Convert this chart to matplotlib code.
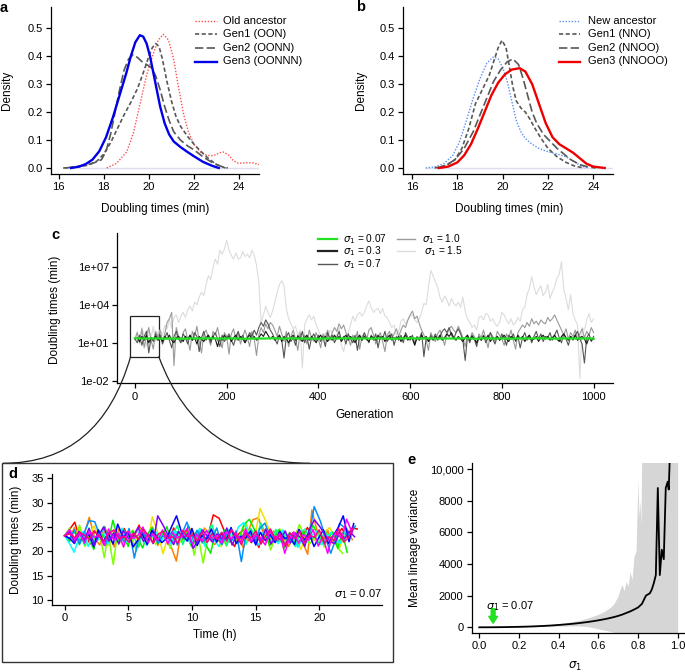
import numpy as np
import matplotlib
matplotlib.use('Agg')
from matplotlib import pyplot as plt
from matplotlib.lines import Line2D
from matplotlib.patches import Rectangle, PathPatch
from matplotlib.path import Path

plt.rcParams['font.family'] = ['Liberation Sans', 'DejaVu Sans']
plt.rcParams['font.size'] = 8

# ---------------- panel a: densities (old ancestor lineage)
a_old_x = [18.13, 18.57, 19.02, 19.31, 19.61, 19.9, 20.2, 20.42, 20.64, 20.87, 21.09, 21.31, 21.53,
           21.75, 21.98, 22.27, 22.57, 22.86, 23.16, 23.31, 23.53, 23.75, 23.97, 24.2, 24.42, 24.64, 24.89]
a_old_y = [0.0, 0.017, 0.058, 0.124, 0.23, 0.333, 0.41, 0.458, 0.478, 0.458, 0.393, 0.291, 0.196,
           0.13, 0.088, 0.058, 0.045, 0.044, 0.055, 0.057, 0.047, 0.026, 0.017, 0.018, 0.019, 0.018, 0.012]
a_g1_x = [16.2, 16.8, 17.3, 17.7, 18.0, 18.3, 18.6, 18.9, 19.2, 19.5, 19.75, 20.0, 20.15, 20.3, 20.45,
          20.6, 20.8, 21.0, 21.2, 21.4, 21.7, 22.0, 22.3, 22.6, 23.0, 23.4]
a_g1_y = [0.0, 0.003, 0.01, 0.025, 0.05, 0.09, 0.14, 0.19, 0.235, 0.285, 0.34, 0.40, 0.43, 0.445, 0.435,
          0.39, 0.31, 0.24, 0.185, 0.15, 0.115, 0.085, 0.06, 0.037, 0.012, 0.0]
a_g2_x = [16.3, 16.8, 17.3, 17.7, 17.9, 18.1, 18.3, 18.5, 18.7, 18.9, 19.1, 19.3, 19.5, 19.7, 19.9,
          20.1, 20.3, 20.5, 20.7, 20.9, 21.1, 21.4, 21.7, 22.0, 22.4, 22.8, 23.2, 23.5]
a_g2_y = [0.0, 0.005, 0.012, 0.022, 0.03, 0.06, 0.12, 0.2, 0.28, 0.35, 0.39, 0.405, 0.395, 0.38, 0.37,
          0.36, 0.33, 0.28, 0.22, 0.17, 0.13, 0.1, 0.08, 0.065, 0.04, 0.02, 0.006, 0.0]
a_g3_x = [16.55, 16.9, 17.2, 17.5, 17.8, 18.1, 18.4, 18.7, 19.0, 19.2, 19.4, 19.6, 19.75, 19.9, 20.05,
          20.2, 20.35, 20.5, 20.7, 20.9, 21.1, 21.4, 21.7, 22.0, 22.4, 22.8, 23.1]
a_g3_y = [0.0, 0.005, 0.014, 0.03, 0.06, 0.11, 0.18, 0.26, 0.34, 0.4, 0.45, 0.475, 0.47, 0.445, 0.4,
          0.34, 0.28, 0.22, 0.16, 0.12, 0.095, 0.075, 0.058, 0.042, 0.022, 0.008, 0.0]

# ---------------- panel b: densities (new ancestor lineage)
b_new_x = [16.6, 17.0, 17.4, 17.8, 18.1, 18.4, 18.7, 19.0, 19.3, 19.6, 19.8, 20.0, 20.2, 20.4, 20.6,
           20.8, 21.0, 21.3, 21.6, 22.0, 22.4, 22.8, 23.2, 23.5, 23.8]
b_new_y = [0.0, 0.004, 0.015, 0.045, 0.095, 0.17, 0.25, 0.32, 0.375, 0.398, 0.39, 0.36, 0.31, 0.24, 0.17,
           0.13, 0.105, 0.085, 0.07, 0.058, 0.05, 0.04, 0.02, 0.006, 0.0]
b_g1_x = [17.0, 17.5, 17.9, 18.2, 18.5, 18.8, 19.1, 19.4, 19.6, 19.8, 19.97, 20.15, 20.3, 20.45, 20.6,
          20.8, 21.0, 21.2, 21.4, 21.7, 22.0, 22.4, 22.8, 23.2, 23.6]
b_g1_y = [0.0, 0.008, 0.03, 0.07, 0.14, 0.23, 0.28, 0.33, 0.38, 0.43, 0.457, 0.43, 0.36, 0.29, 0.24,
          0.215, 0.2, 0.175, 0.145, 0.105, 0.07, 0.04, 0.02, 0.006, 0.0]
b_g2_x = [17.1, 17.5, 17.9, 18.3, 18.7, 19.0, 19.3, 19.6, 19.9, 20.2, 20.45, 20.7, 20.9, 21.1, 21.3,
          21.5, 21.8, 22.1, 22.4, 22.7, 23.0, 23.4, 23.8, 24.1]
b_g2_y = [0.0, 0.01, 0.03, 0.07, 0.13, 0.19, 0.25, 0.31, 0.35, 0.38, 0.39, 0.37, 0.32, 0.26, 0.2,
          0.16, 0.12, 0.095, 0.07, 0.05, 0.03, 0.012, 0.003, 0.0]
b_g3_x = [17.2, 17.6, 18.0, 18.3, 18.6, 18.9, 19.2, 19.5, 19.8, 20.1, 20.4, 20.75, 21.0, 21.3, 21.6,
          21.9, 22.2, 22.5, 22.8, 23.1, 23.4, 23.7, 24.0, 24.5]
b_g3_y = [0.0, 0.005, 0.02, 0.045, 0.085, 0.14, 0.2, 0.26, 0.305, 0.335, 0.352, 0.357, 0.345, 0.3, 0.23,
          0.16, 0.11, 0.085, 0.07, 0.055, 0.035, 0.015, 0.005, 0.0]

# ---------------- panel c: log10 doubling times, every 5 generations
gens = np.arange(0, 1001, 5)
c_s15 = [1.3, 1.9, 0.9, 2.2, 1.5, 0.7, 2.0, 1.4, 2.3, 1.1, 1.8,
         2.0, 1.6, 2.4, 2.1, 2.8, 2.2, 3.0, 3.2, 2.6, 3.1,
         3.4, 3.0, 3.6, 3.9, 3.5, 4.2, 4.0, 4.6, 5.0, 4.7,
         5.6, 6.3, 6.0, 6.9, 7.6, 7.2, 8.3, 8.0, 8.4, 9.1,
         8.3, 7.9, 7.6, 8.1, 7.6, 7.7, 8.2, 7.8, 8.0, 7.7,
         8.3, 7.9, 7.1, 5.8, 2.6, 3.2, 3.9, 3.4, 3.0, 3.5,
         4.2, 5.0, 5.6, 5.9, 5.5, 3.7, 2.9, 2.5, 2.1, 2.3,
         1.6, 2.0, -1.0, 2.4, 2.9, 3.2, 2.8, 3.1, 2.4, 2.0,
         1.5, 1.1, 1.8, 1.4, 2.0, 1.8, 1.2, 1.6, 2.2, 0.8,
         0.3, 1.3, 1.8, 2.4, 3.1, 2.7, 3.2, 3.4, 3.1, 3.4,
         3.9, 4.3, 3.8, 3.4, 3.6, 3.7, 3.3, 3.7, 3.1, 3.0,
         2.6, 2.2, 2.4, 1.6, 1.9, 2.7, 2.9, 2.5, 2.8, 3.1,
         3.2, 2.8, 2.6, 2.9, 3.4, 4.1, 4.0, 5.4, 6.7, 6.3,
         5.8, 5.4, 4.6, 4.2, 4.7, 4.4, 3.9, 4.5, 4.1, 3.9,
         4.2, 3.8, 4.6, 3.5, 2.9, 2.6, 2.2, 2.4, 2.0, 3.0,
         3.1, 2.8, 3.3, 3.2, 2.7, 2.9, 2.5, 2.3, 2.6, 3.4,
         3.2, 2.8, 2.5, 2.9, 2.4, 2.6, 3.0, 2.7, 3.6, 3.8,
         4.8, 5.3, 6.2, 5.4, 4.8, 5.2, 5.5, 4.7, 5.0, 5.6,
         4.5, 5.0, 5.4, 6.1, 6.4, 7.4, 5.2, 4.5, 3.6, 4.8,
         3.3, 2.8, 2.4, -1.8, 2.2, 2.0, 2.8, 3.3, 2.6, 2.9]
c_s10 = [1.3, 1.8, 1.0, 2.1, 0.6, 1.6, 2.2, 1.2, 0.5, 1.9, 1.4,
         2.0, 1.1, 1.7, 2.6, 2.9, 3.4, -0.8, 2.2, 1.5, 1.0,
         1.8, 2.1, 1.2, 0.4, 1.9, 1.5, 2.3, 1.1, 0.2, 1.7,
         2.0, 1.4, 0.8, 1.9, 1.6, 2.2, 1.3, 0.6, 1.8, 1.5,
         0.1, 1.7, 2.1, 1.2, 1.8, 0.9, 1.5, 2.0, 1.4, 0.7,
         1.9, 1.3, 0.0, 1.6, 2.2, 1.8, 2.5, 2.1, 2.6, 2.4,
         2.0, 1.5, 2.3, 1.7, 1.1, 1.9, 0.7, 1.5, 2.0, 1.3,
         0.4, 1.8, 1.2, 1.6, 0.9, 2.0, 1.4, 1.1, 1.8, 1.3,
         0.6, 1.7, 1.4, 2.0, 1.2, 1.8, 2.2, 1.9, 2.5, 2.1,
         2.4, 1.8, 1.4, 0.8, 1.6, 1.2, 1.9, 0.5, 1.5, 1.7,
         1.2, 2.0, 2.2, 1.6, 0.9, 1.4, 1.8, 1.1, 0.3, 1.6,
         1.9, 1.3, 1.7, 2.1, 1.5, 2.0, 2.4, 2.2, 2.8, 3.2,
         3.5, 2.9, 3.1, 2.5, 2.0, 1.6, 1.2, 0.4, 1.8, 1.4,
         1.1, 1.7, 2.0, 1.5, 0.8, 1.6, 2.1, 2.3, 2.0, 1.8,
         2.3, 1.9, 1.4, 0.7, 1.6, 1.2, 1.8, 1.5, 0.9, 1.7,
         1.4, 2.0, 1.3, 0.6, 1.8, 1.5, 1.1, 1.9, 1.6, 1.3,
         0.8, 1.7, 1.4, 2.0, 1.2, 0.5, 1.8, 2.1, 2.4, 2.2,
         2.6, 2.3, 2.9, 2.5, 2.7, 2.4, 2.8, 2.6, 2.5, 3.0,
         2.7, 2.9, 3.2, 2.8, 2.4, 2.0, 1.6, 2.1, 1.3, 1.8,
         1.5, 2.0, 1.2, 1.7, 2.1, 1.4, 1.9, 1.6, 2.2, 1.8]
c_s07 = [1.3, 1.0, 1.6, 0.8, 1.5, 1.9, 0.2, 1.4, 1.1, 1.7, 1.2,
         1.6, 0.9, 1.4, 1.8, 1.2, 0.6, 1.5, 1.9, 1.3, 1.0,
         1.7, 1.4, 0.9, 1.6, 1.2, 1.8, 1.5, 0.3, 1.4, 1.9,
         1.2, 1.6, 1.0, 1.5, 1.8, 1.3, 0.7, 1.6, 1.1, 1.4,
         1.7, 1.2, 0.8, 1.5, 1.9, 1.3, 1.6, 1.0, 1.4, 1.8,
         1.5, 2.0, 1.6, 2.2, 2.6, 2.3, 2.8, 2.5, 2.0, 1.7,
         1.3, 0.9, 1.6, 1.2, -0.2, 1.5, 1.8, 1.1, 1.4, 0.8,
         1.6, 1.3, 1.9, 1.0, 1.5, 0.5, 1.4, 1.7, 1.2, 1.6,
         1.1, 1.5, 0.7, 1.8, 1.3, 1.6, 1.0, 1.4, 1.9, 1.2,
         1.5, 0.9, 1.7, 1.3, 1.0, 1.6, 0.4, 1.5, 1.2, 1.8,
         1.4, 1.0, 1.6, 1.2, 1.7, 0.6, 1.5, 1.3, 1.9, 1.1,
         1.4, 1.7, 0.8, 1.5, 1.2, 1.6, 1.0, 1.8, 1.4, 1.2,
         1.6, 0.9, 1.5, 1.3, 1.8, -0.1, 1.4, 1.1, 1.6, 1.3,
         1.7, 1.2, 1.5, 1.9, 2.1, 1.8, 2.2, 1.6, 1.3, 1.8,
         2.1, 1.7, 1.2, -0.4, 1.5, 1.0, 1.6, 1.3, 0.7, 1.5,
         1.2, 1.6, 1.0, 1.4, 1.8, 1.3, 0.9, 1.5, 1.2, 1.7,
         1.4, 0.8, 1.6, 1.3, 1.7, 1.1, 1.5, 0.6, 1.4, 1.8,
         1.2, 1.6, 1.0, 1.5, 1.9, 1.3, 1.7, 1.1, 1.5, 1.4,
         1.8, 1.2, 1.6, 2.0, 1.4, 1.0, 1.7, 1.3, 0.8, 1.5,
         1.2, 1.6, 1.9, 1.3, 0.9, -0.6, 1.4, 1.7, 1.1, 1.5]
c_s03 = [1.3, 1.4, 1.1, 1.5, 1.2, 1.6, 1.0, 1.4, 1.3, 1.5, 1.2,
         1.4, 1.1, 1.5, 1.3, 1.6, 1.2, 1.0, 1.4, 1.5, 1.3,
         1.1, 1.5, 1.3, 1.6, 1.2, 1.4, 0.9, 1.5, 1.3, 1.1,
         1.4, 1.6, 1.2, 1.5, 1.3, 0.7, 1.4, 1.2, 1.6, 1.3,
         1.5, 1.1, 1.4, 1.6, 1.2, 1.5, 1.3, 1.0, 1.4, 1.6,
         1.3, 1.5, 1.2, 1.4, 1.7, 1.5, 1.9, 1.6, 1.3, 1.5,
         1.2, 1.4, 1.6, 1.1, 1.5, 1.3, 1.0, 1.4, 1.6, 1.2,
         1.5, 1.3, 1.1, 1.4, 1.6, 1.2, 1.5, 1.3, 1.0, 1.4,
         1.6, 1.3, 1.5, 1.1, 1.4, 1.2, 1.6, 1.3, 1.5, 1.1,
         1.4, 1.6, 1.2, 1.5, 1.3, 1.0, 1.4, 1.6, 1.2, 1.5,
         1.3, 1.1, 1.5, 1.4, 1.2, 1.6, 1.3, 1.5, 1.1, 1.4,
         1.6, 1.2, 1.4, 1.3, 1.5, 1.1, 1.4, 1.6, 1.2, 1.5,
         1.3, 0.8, 1.4, 1.2, 1.6, 1.3, 1.5, 1.1, 1.4, 1.2,
         1.5, 1.3, 1.6, 1.2, 1.4, 1.7, 1.5, 1.8, 1.4, 1.2,
         1.5, 1.3, 1.1, 1.4, 1.6, 1.2, 1.5, 1.3, 1.0, 1.4,
         1.2, 1.5, 1.3, 1.6, 1.1, 1.4, 1.3, 1.5, 1.2, 1.4,
         1.6, 1.3, 1.1, 1.5, 1.4, 1.2, 1.6, 1.3, 1.5, 1.1,
         1.4, 1.6, 1.2, 1.3, 1.5, 1.1, 1.4, 1.6, 1.3, 1.5,
         1.2, 1.4, 1.6, 1.3, 1.1, 1.5, 1.7, 1.4, 1.2, 1.5,
         1.3, 1.6, 1.2, 1.4, 1.5, 1.3, 0.9, 1.4, 1.2, 1.3]
gens_g = np.arange(0, 1001, 20)
c_s007 = [1.36, 1.33, 1.35, 1.32, 1.34, 1.31, 1.35, 1.33, 1.36, 1.32, 1.34, 1.35, 1.31, 1.34, 1.33, 1.36, 1.32,
          1.35, 1.33, 1.34, 1.31, 1.35, 1.33, 1.36, 1.32, 1.34, 1.33, 1.35, 1.31, 1.34, 1.36, 1.33, 1.35, 1.32,
          1.34, 1.33, 1.36, 1.31, 1.35, 1.33, 1.34, 1.32, 1.35, 1.33, 1.36, 1.34, 1.32, 1.35, 1.33, 1.34, 1.33]

# ---------------- panel d: doubling times (min) of single lineages, sigma1 = 0.07
d_lineages = [
    [23.2, 24.5, 26.0, 22.1, 23.8, 21.5, 24.2, 22.9, 25.1, 22.0, 23.6, 21.8, 24.7, 22.5, 23.1, 25.4, 21.9, 23.3, 24.0, 22.2,
     23.9, 21.4, 24.8, 23.0, 22.4, 25.2, 22.8, 24.1, 21.7, 23.5, 27.5, 26.8, 23.9, 22.3, 21.0, 23.7, 24.4, 22.1, 23.2, 20.8,
     24.6, 22.7, 23.4, 21.9, 24.2, 22.6, 23.8, 21.5, 23.1, 24.9, 22.3, 23.6, 22.0, 24.4, 21.8, 23.3, 24.7, 22.9, 24.8, 24.6],
    [23.2, 22.4, 24.9, 21.8, 23.5, 27.0, 22.6, 21.3, 24.1, 23.0, 20.9, 24.6, 22.2, 23.8, 21.5, 20.8, 23.9, 22.7, 25.0, 21.2,
     23.4, 22.0, 20.5, 18.0, 22.9, 24.3, 21.6, 23.7, 22.1, 24.8, 23.0, 21.4, 22.5, 24.0, 21.9, 23.3, 22.6, 20.7, 23.9, 26.5,
     26.9, 23.1, 21.8, 24.2, 22.4, 23.6, 21.0, 22.8, 24.5, 21.6, 19.4, 28.5, 23.6, 22.0, 24.3, 21.7, 23.2, 22.8, 24.6, 22.4],
    [23.2, 23.9, 22.1, 24.6, 21.7, 23.3, 25.2, 22.4, 23.0, 21.2, 24.1, 22.8, 20.9, 23.6, 24.4, 22.0, 23.1, 21.5, 27.1, 23.8,
     19.5, 22.6, 24.0, 21.9, 23.4, 22.3, 24.7, 21.6, 23.2, 24.5, 22.1, 23.7, 21.0, 22.9, 24.3, 23.5, 22.2, 24.8, 21.8, 23.4,
     28.8, 26.0, 23.1, 22.5, 24.2, 21.3, 23.6, 22.7, 20.4, 23.0, 24.1, 22.2, 21.9, 23.8, 24.9, 22.6, 20.8, 23.3, 22.8],
    [23.2, 24.8, 22.3, 25.4, 21.0, 23.6, 22.4, 24.1, 18.7, 23.5, 17.3, 22.8, 24.4, 21.6, 23.0, 20.1, 24.6, 22.2, 23.8, 21.4,
     22.9, 24.2, 20.6, 23.5, 21.9, 22.4, 24.7, 19.2, 23.1, 17.6, 21.8, 24.0, 22.6, 23.3, 21.1, 24.5, 22.0, 23.7, 25.9, 22.5,
     24.3, 21.7, 23.2, 20.3, 22.8, 24.6, 21.2, 23.9, 22.4, 25.5, 23.0, 21.5, 22.7, 24.1, 20.9, 23.4, 22.2, 20.6, 19.6],
    [23.2, 22.0, 24.3, 21.4, 23.9, 22.6, 20.4, 24.5, 23.1, 21.8, 26.4, 22.3, 23.6, 21.0, 24.2, 22.8, 20.7, 23.4, 24.9, 22.1,
     23.0, 25.1, 21.6, 24.0, 22.5, 23.7, 20.9, 22.4, 24.6, 21.3, 19.6, 23.3, 22.0, 24.4, 21.9, 23.5, 22.6, 25.5, 26.6, 24.2,
     22.1, 23.8, 21.2, 22.9, 24.5, 20.7, 23.6, 22.3, 21.0, 24.1, 22.7, 25.4, 23.2, 21.6, 22.8, 24.0, 20.6, 23.9, 19.8],
    [23.2, 24.2, 22.5, 23.7, 21.3, 24.8, 22.0, 23.4, 25.1, 22.3, 23.9, 21.6, 24.4, 22.8, 23.1, 20.9, 24.6, 22.2, 23.5, 21.8,
     24.0, 22.7, 23.3, 25.3, 21.4, 23.8, 22.1, 24.3, 21.7, 23.0, 25.6, 22.4, 23.6, 21.2, 24.1, 22.9, 23.4, 21.5, 24.7, 22.6,
     25.8, 23.2, 22.0, 24.5, 21.9, 23.7, 22.3, 21.0, 23.8, 24.6, 22.5, 23.1, 21.4, 24.2, 22.7, 23.5, 21.8, 22.9, 24.0],
    [23.2, 21.6, 19.8, 22.4, 24.1, 21.0, 23.5, 22.2, 24.6, 21.4, 23.0, 22.7, 24.8, 21.9, 22.5, 24.3, 23.1, 21.2, 22.8, 24.0,
     22.0, 23.6, 21.5, 24.2, 22.9, 23.3, 21.7, 22.4, 24.7, 21.1, 23.8, 22.3, 21.0, 23.4, 24.5, 22.1, 25.0, 25.9, 23.6, 22.4,
     21.3, 24.0, 22.8, 23.1, 21.6, 24.4, 22.2, 23.7, 20.8, 22.5, 21.9, 23.2, 24.1, 21.4, 22.6, 23.9, 22.0, 21.7, 24.3, 23.0],
    [23.2, 22.6, 24.4, 21.5, 23.8, 26.3, 26.1, 22.9, 21.2, 24.0, 22.5, 23.4, 21.8, 24.7, 18.6, 22.3, 23.9, 22.0, 24.5, 21.6,
     23.2, 22.8, 24.1, 21.3, 23.6, 26.0, 22.7, 24.3, 21.9, 23.0, 22.4, 24.8, 21.4, 23.5, 22.1, 24.2, 17.9, 22.6, 23.8, 21.7,
     24.6, 25.8, 23.1, 22.5, 24.0, 21.2, 23.7, 22.9, 24.4, 21.8, 23.3, 29.2, 26.2, 22.6, 19.6, 22.0, 25.7, 24.8, 23.4, 25.2],
    [23.2, 22.7, 21.6, 24.1, 22.3, 23.5, 20.9, 24.4, 22.0, 23.8, 21.5, 25.6, 22.8, 24.0, 20.9, 22.2, 23.6, 21.4, 24.3, 23.0,
     21.8, 22.6, 24.9, 27.3, 23.4, 22.1, 24.7, 21.2, 23.3, 22.5, 24.6, 21.9, 23.7, 22.4, 24.9, 21.6, 23.1, 22.8, 24.2, 21.3,
     23.9, 22.2, 23.5, 21.8, 24.1, 22.6, 23.0, 21.4, 24.5, 22.3, 23.8, 21.0, 22.7, 24.4, 21.6, 23.2, 24.8, 27.3, 22.0, 25.7],
    [23.2, 24.0, 21.8, 23.6, 22.4, 24.7, 21.2, 23.3, 25.0, 22.1, 23.8, 21.5, 24.3, 22.6, 23.1, 24.9, 22.0, 23.5, 21.6, 27.3,
     25.2, 23.0, 21.4, 24.1, 22.8, 23.7, 20.6, 22.2, 24.4, 23.1, 21.9, 23.6, 22.5, 24.8, 21.3, 23.2, 22.7, 24.0, 21.8, 23.4,
     22.1, 24.6, 21.5, 23.0, 22.4, 24.2, 21.7, 23.8, 22.9, 21.0, 24.5, 26.5, 25.0, 23.3, 22.0, 21.6, 23.9, 22.6, 24.1, 23.0],
    [23.2, 24.5, 22.4, 23.8, 21.7, 24.2, 22.9, 23.4, 21.2, 24.6, 22.3, 23.7, 20.9, 24.1, 22.6, 23.3, 25.0, 21.8, 23.6, 22.2,
     24.4, 21.5, 23.9, 22.8, 23.1, 24.7, 21.4, 23.5, 22.0, 24.3, 22.7, 23.2, 21.6, 24.0, 22.5, 23.8, 21.9, 24.6, 22.1, 23.4,
     22.8, 21.3, 24.2, 22.6, 23.7, 19.6, 22.4, 24.0, 21.7, 23.5, 22.3, 24.5, 21.1, 23.0, 19.6, 22.9, 24.1, 22.5, 26.6, 23.8],
    [23.2, 23.6, 22.8, 24.0, 23.3, 22.5, 24.2, 23.0, 22.1, 23.7, 24.4, 22.6, 23.1, 21.9, 23.8, 22.4, 24.6, 23.2, 21.7, 23.5,
     24.1, 22.7, 23.0, 21.6, 24.3, 22.9, 23.4, 22.2, 24.0, 21.8, 23.6, 22.5, 23.9, 22.1, 24.5, 23.0, 21.4, 23.7, 22.8, 24.2,
     21.5, 23.1, 24.6, 22.3, 23.4, 21.0, 23.8, 22.6, 24.1, 21.7, 23.3, 22.9, 24.4, 21.6, 23.0, 22.2, 24.7, 21.9, 22.8, 24.9],
]
d_colors = ['#FF0000', '#FF8000', '#F0E000', '#80FF00', '#00F000', '#00FF80',
            '#00FFFF', '#0090FF', '#0000FF', '#8000FF', '#FF00FF', '#FF0080']

# ---------------- panel e: mean lineage variance vs sigma1
e_sig = [0.00, 0.02, 0.04, 0.06, 0.08, 0.10, 0.12, 0.14, 0.16, 0.18, 0.20, 0.22, 0.24, 0.26, 0.28, 0.30,
         0.32, 0.34, 0.36, 0.38, 0.40, 0.42, 0.44, 0.46, 0.48, 0.50, 0.52, 0.54, 0.56, 0.58, 0.60, 0.62,
         0.64, 0.66, 0.68, 0.70, 0.72, 0.74, 0.76, 0.78, 0.80, 0.82, 0.84, 0.86, 0.87, 0.88, 0.89, 0.90,
         0.91, 0.92, 0.93, 0.94, 0.95, 0.955, 0.96]
e_mean = [0, 0.3, 1.2, 2.7, 5, 8, 11, 15, 19, 24, 30, 37, 44, 52, 62, 73,
          85, 98, 112, 128, 148, 168, 188, 210, 235, 262, 292, 325, 360, 398, 440, 485,
          535, 590, 650, 720, 800, 900, 1000, 1120, 1250, 1480, 2000, 2150, 2400, 2800, 3300, 8800,
          3300, 4900, 4300, 8800, 9200, 8700, 10600]
e_band_sig = [0.0, 0.1, 0.2, 0.3, 0.4, 0.45, 0.5, 0.55, 0.6, 0.63, 0.66, 0.68, 0.70, 0.71, 0.72, 0.73,
              0.74, 0.75, 0.76, 0.77, 0.78, 0.79, 0.80, 0.805, 0.81, 0.815, 0.82, 1.0]
e_band_hi = [0, 12, 45, 110, 230, 320, 430, 600, 820, 1000, 1250, 1500, 2000, 2400, 2700, 2300,
             2900, 2600, 3500, 3000, 4500, 4800, 9300, 7000, 8000, 6500, 12000, 12000]
e_band_lo = [0, 5, 18, 45, 80, 85, 90, 40, -100, -180, -260, -320, -1000, -1000, -1000, -1000,
             -1000, -1000, -1000, -1000, -1000, -1000, -1000, -1000, -1000, -1000, -1000, -1000]

W, H = 685, 672
fig = plt.figure(figsize=(W / 100, H / 100), dpi=100)


def box(x0, y0, x1, y1):
    return [x0 / W, 1 - y1 / H, (x1 - x0) / W, (y1 - y0) / H]


def fx(x):
    return x / W


def fy(y):
    return 1 - y / H


def style(ax):
    for s in ['top', 'right']:
        ax.spines[s].set_visible(False)
    for s in ['left', 'bottom']:
        ax.spines[s].set_linewidth(0.9)
    ax.tick_params(direction='out', length=3.5, width=0.9, labelsize=8, pad=2.5)


def label(x, y, s, rot=0, **kw):
    fig.text(fx(x), fy(y), s, rotation=rot, ha='center', va='center', fontsize=8.5, **kw)


def leg_row(x0, x1, xt, y, s, size=8, **kw):
    fig.add_artist(Line2D([fx(x0), fx(x1)], [fy(y), fy(y)], transform=fig.transFigure, **kw))
    fig.text(fx(xt), fy(y), s, ha='left', va='center', fontsize=size)


red_dot = dict(color='#ff5050', lw=1.0, dashes=(1, 1.2))
blue_dot = dict(color='#5a8ff0', lw=1.0, dashes=(1, 1.2))
gen1 = dict(color='#585858', lw=1.2, dashes=(2.5, 1.5))
gen2 = dict(color='#585858', lw=1.2, dashes=(5, 2))
blue3 = dict(color='#0000e8', lw=1.7)
red3 = dict(color='#ee0000', lw=1.7)

# a
ax = fig.add_axes(box(51, 6.7, 259, 174))
style(ax)
ax.plot([16.2, 24.9], [0, 0], color='#dedef2', lw=1)
ax.plot(a_old_x, a_old_y, **red_dot)
ax.plot(a_g1_x, a_g1_y, **gen1)
ax.plot(a_g2_x, a_g2_y, **gen2)
ax.plot(a_g3_x, a_g3_y, **blue3)
ax.set_xlim(15.658, 24.886)
ax.set_ylim(-0.0215, 0.577)
ax.set_xticks([16, 18, 20, 22, 24])
ax.set_yticks([0, 0.1, 0.2, 0.3, 0.4, 0.5], ['0.0', '0.1', '0.2', '0.3', '0.4', '0.5'])
leg_row(195, 216.7, 223.3, 20.7, 'Old ancestor', **red_dot)
leg_row(195, 216.7, 223.3, 34.2, 'Gen1 (OON)', **gen1)
leg_row(195, 216.7, 223.3, 47.8, 'Gen2 (OONN)', **gen2)
leg_row(195, 216.7, 223.3, 61.5, 'Gen3 (OONNN)', **blue3)
label(7.5, 90.3, 'Density', rot=90)
label(155, 208.5, 'Doubling times (min)')
fig.text(fx(3.5), fy(7.5), 'a', fontsize=10.5, fontweight='bold', ha='center', va='center')

# b
ax = fig.add_axes(box(403.3, 6.7, 612.7, 174))
style(ax)
ax.plot([16.6, 24.85], [0, 0], color='#dedef2', lw=1)
ax.plot(b_new_x, b_new_y, **blue_dot)
ax.plot(b_g1_x, b_g1_y, **gen1)
ax.plot(b_g2_x, b_g2_y, **gen2)
ax.plot(b_g3_x, b_g3_y, **red3)
ax.set_xlim(15.616, 24.853)
ax.set_ylim(-0.0215, 0.577)
ax.set_xticks([16, 18, 20, 22, 24])
ax.set_yticks([0, 0.1, 0.2, 0.3, 0.4, 0.5], ['0.0', '0.1', '0.2', '0.3', '0.4', '0.5'])
leg_row(559, 580, 587.7, 20.7, 'New ancestor', **blue_dot)
leg_row(559, 580, 587.7, 34.2, 'Gen1 (NNO)', **gen1)
leg_row(559, 580, 587.7, 47.8, 'Gen2 (NNOO)', **gen2)
leg_row(559, 580, 587.7, 61.5, 'Gen3 (NNOOO)', **red3)
label(361, 90.3, 'Density', rot=90)
label(509, 208.5, 'Doubling times (min)')
fig.text(fx(360.5), fy(7), 'b', fontsize=10.5, fontweight='bold', ha='center', va='center')

# c
c_styles = [(c_s15, gens, dict(color='#dcdcdc', lw=0.8)),
            (c_s10, gens, dict(color='#9a9a9a', lw=0.8)),
            (c_s07, gens, dict(color='#555555', lw=0.8)),
            (c_s03, gens, dict(color='#151515', lw=0.8))]
ax = fig.add_axes(box(117.3, 233.3, 613.3, 383.3))
style(ax)
ax.set_yscale('log')
for vals, g, st in c_styles:
    ax.plot(g, 10 ** np.array(vals), **st)
ax.plot(gens_g, 10 ** np.array(c_s007), color='#22e022', lw=1.6)
ax.add_patch(Rectangle((-10, 10 ** -0.1), 62, 10 ** 3.15 - 10 ** -0.1, fill=False, lw=0.9,
                       ec='#222222', clip_on=False))
ax.set_xlim(-38.6, 1043)
ax.set_ylim(10 ** -2.2, 10 ** 9.64)
ax.set_xticks([0, 200, 400, 600, 800, 1000])
ax.set_yticks([1e-2, 1e1, 1e4, 1e7], ['1e-02', '1e+01', '1e+04', '1e+07'])
ax.minorticks_off()
label(55, 310, 'Doubling times (min)', rot=90)
label(365, 415.5, 'Generation')
fig.text(fx(55), fy(235), 'c', fontsize=10.5, fontweight='bold', ha='center', va='center')
leg_row(318.3, 336.7, 342.7, 238.8, r'$\sigma_1$ = 0.07', size=7.3, color='#22e022', lw=1.6)
leg_row(318.3, 336.7, 342.7, 251.3, r'$\sigma_1$ = 0.3', size=7.3, color='#222222', lw=1.6)
leg_row(318.3, 336.7, 342.7, 263.8, r'$\sigma_1$ = 0.7', size=7.3, color='#555555', lw=1.0)
leg_row(396.7, 415, 421.7, 238.8, r'$\sigma_1$ = 1.0', size=7.3, color='#9a9a9a', lw=1.0)
leg_row(396.7, 415, 424, 251.3, r'$\sigma_1$ = 1.5', size=7.3, color='#dcdcdc', lw=1.0)

# zoom connectors from box in c to panel d
for p0, p1, p2 in [((130.7, 356.3), (100, 463.3), (3, 463.3)),
                   ((158.7, 356.3), (198, 463.3), (310, 463.3))]:
    verts = [(fx(p[0]), fy(p[1])) for p in (p0, p1, p2)]
    path = Path(verts, [Path.MOVETO, Path.CURVE3, Path.CURVE3])
    fig.add_artist(PathPatch(path, transform=fig.transFigure, fill=False, lw=0.9, ec='#222222'))
fig.add_artist(Rectangle((fx(1.7), fy(661.7)), (393.3 - 1.7) / W, (661.7 - 463.3) / H,
                         transform=fig.transFigure, fill=False, lw=1.0, ec='#333333'))

# d
ax = fig.add_axes(box(52.3, 474, 382.3, 605))
style(ax)
for dt, col in zip(d_lineages, d_colors):
    dt = np.array(dt)
    t = np.concatenate([[0], np.cumsum(dt[:-1])]) / 60
    ax.plot(t, dt, color=col, lw=1.1)
ax.set_xlim(-0.97, 24.95)
ax.set_ylim(8.97, 35.9)
ax.set_xticks([0, 5, 10, 15, 20])
ax.set_yticks([10, 15, 20, 25, 30, 35])
ax.text(24.9, 11.2, r'$\sigma_1$ = 0.07', ha='right', va='center', fontsize=8)
label(16, 539.5, 'Doubling times (min)', rot=90)
label(215, 635, 'Time (h)')
fig.text(fx(13), fy(474), 'd', fontsize=10.5, fontweight='bold', ha='center', va='center')

# e
ax = fig.add_axes(box(471.7, 462.7, 685, 632.7))
style(ax)
ax.fill_between(e_band_sig, e_band_lo, e_band_hi, color='#d6d6d6', lw=0)
ax.plot(e_sig, e_mean, color='black', lw=1.3)
ax.annotate('', xy=(0.07, 260), xytext=(0.07, 1180),
            arrowprops=dict(arrowstyle='simple,head_length=0.7,head_width=0.9,tail_width=0.4',
                            color='#22e022', mutation_scale=7, shrinkA=0, shrinkB=0))
ax.text(0.155, 1360, r'$\sigma_1$ = 0.07', ha='center', va='center', fontsize=8)
ax.set_xlim(-0.038, 1.037)
ax.set_ylim(-341, 10398)
ax.set_xticks([0, 0.2, 0.4, 0.6, 0.8, 1.0], ['0.0', '0.2', '0.4', '0.6', '0.8', '1.0'])
ax.set_yticks([0, 2000, 4000, 6000, 8000, 10000], ['0', '2000', '4000', '6000', '8000', '10,000'])
label(415, 547.7, 'Mean lineage variance', rot=90)
label(575, 666, r'$\sigma_1$')
fig.text(fx(412), fy(460), 'e', fontsize=10.5, fontweight='bold', ha='center', va='center')

fig.savefig('out.png', dpi=100)
